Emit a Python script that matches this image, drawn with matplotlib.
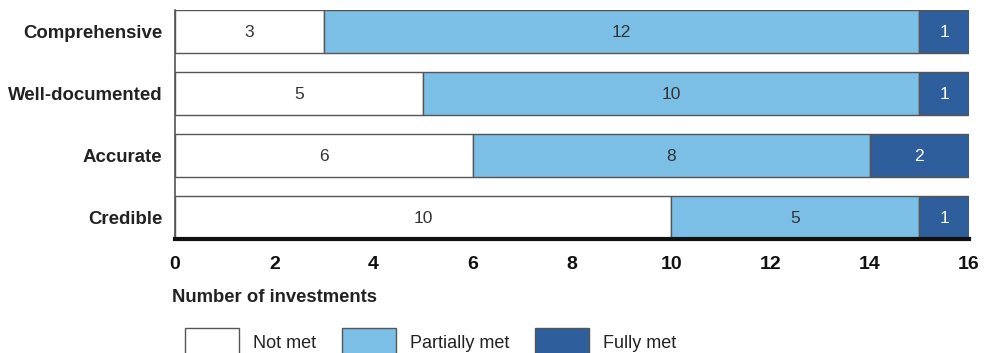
import matplotlib
matplotlib.use("Agg")
import matplotlib.pyplot as plt
import numpy as np

categories = ["Credible", "Accurate", "Well-documented", "Comprehensive"]
not_met = [10, 6, 5, 3]
partially_met = [5, 8, 10, 12]
fully_met = [1, 2, 1, 1]
series_names = ["Not met", "Partially met", "Fully met"]
x_ticks = [0, 2, 4, 6, 8, 10, 12, 14, 16]

colors = ["#ffffff", "#7bbfe6", "#2f5e9c"]
text_colors = ["#333333", "#333333", "#ffffff"]
font = ["Liberation Sans", "DejaVu Sans"]

fig = plt.figure(figsize=(9.88, 3.53), dpi=100)
ax = fig.add_axes([175 / 988, 1 - 239 / 353, 794 / 988, 229 / 353])

ypos = np.arange(len(categories))
h = 0.69
left = np.zeros(len(categories))
handles = []
for vals, name, col, tcol in zip([not_met, partially_met, fully_met], series_names, colors, text_colors):
    bars = ax.barh(ypos, vals, left=left, height=h, color=col, edgecolor="#555555",
                   linewidth=1.0, label=name)
    handles.append(bars)
    for b, v in zip(bars, vals):
        ax.text(b.get_x() + b.get_width() / 2, b.get_y() + b.get_height() / 2 - 0.01, str(v),
                ha="center", va="center", fontsize=12.5, color=tcol, family=font)
    left = left + np.array(vals)

ax.set_xlim(0, 16)
ax.set_ylim(-h / 2, len(categories) - 1 + h / 2)
ax.set_xticks(x_ticks)
ax.set_xticklabels([str(t) for t in x_ticks], fontsize=14, fontweight="bold",
                   family=font, color="#111111")
ax.set_yticks(ypos)
ax.set_yticklabels(categories, fontsize=13.4, fontweight="bold", family=font, color="#222222")
ax.tick_params(axis="both", length=0)
ax.tick_params(axis="x", pad=12)
ax.tick_params(axis="y", pad=9)

for s in ["top", "right"]:
    ax.spines[s].set_visible(False)
ax.spines["left"].set_color("#555555")
ax.spines["left"].set_linewidth(1.2)
ax.spines["bottom"].set_color("#111111")
ax.spines["bottom"].set_linewidth(3)

fig.text(172 / 988, 1 - 298 / 353, "Number of investments", fontsize=13.3, fontweight="bold",
         family=font, va="center", ha="left", color="#222222")

leg = fig.legend(handles=handles, labels=series_names, loc="upper left",
                 bbox_to_anchor=(185 / 988, 1 - 328 / 353), ncol=3, frameon=False,
                 handlelength=3.0, handleheight=2.0, handletextpad=0.75, columnspacing=1.45,
                 prop={"family": font, "size": 13}, borderaxespad=0, borderpad=0)
for t in leg.get_texts():
    t.set_color("#222222")

fig.savefig("out.png", dpi=100)
